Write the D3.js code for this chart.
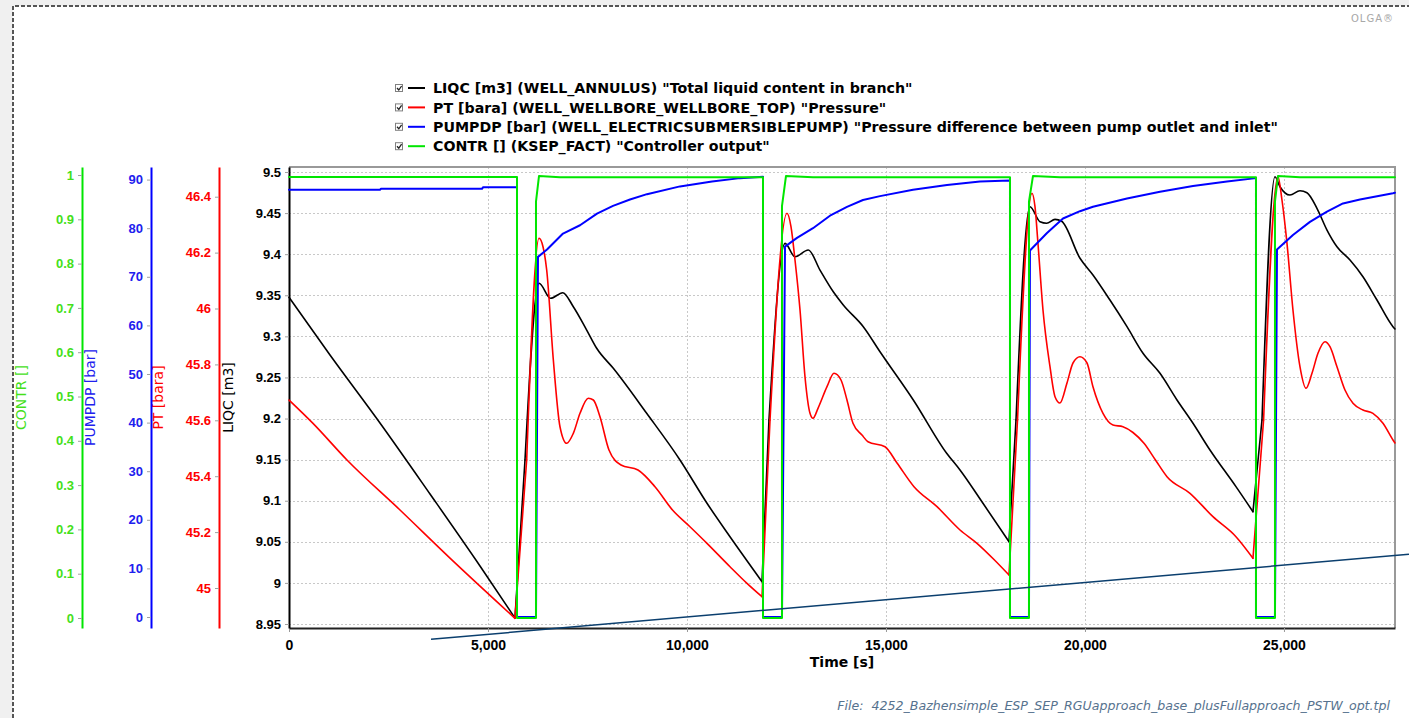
<!DOCTYPE html>
<html>
<head>
<meta charset="utf-8">
<script src="https://cdn.jsdelivr.net/npm/d3@7"></script>
<style>
  body { margin: 0; background: #f0f0f0; }
  svg { display: block; font-family: "DejaVu Sans", Verdana, sans-serif; }
  .tick text { font-weight: bold; font-size: 13px; }
  .xaxis .tick text { font-size: 14px; }
</style>
</head>
<body>
<svg id="chart" width="1409" height="718"></svg>
<script>
// ticks
const xTicks = [0, 5000, 10000, 15000, 20000, 25000];
const liqcTicks = [8.95, 9, 9.05, 9.1, 9.15, 9.2, 9.25, 9.3, 9.35, 9.4, 9.45, 9.5];
const ptTicks = [45, 45.2, 45.4, 45.6, 45.8, 46, 46.2, 46.4];
const pumpTicks = [0, 10, 20, 30, 40, 50, 60, 70, 80, 90];
const contrTicks = [0, 0.1, 0.2, 0.3, 0.4, 0.5, 0.6, 0.7, 0.8, 0.9, 1];

// LIQC [m3]
const liqcTime = [0, 1030, 2286, 3543, 4799, 5678, 5930, 6282, 6575, 6877, 7144, 7480, 7731, 8149, 8987, 9824, 10503, 11081, 11885,
  12060, 12463, 12714, 13048, 13342, 13676, 13927, 14430, 14850, 15687, 16525, 16860, 17437, 18091,
  18267, 18618, 18870, 19037, 19247, 19414, 19875, 20201, 20628, 21056, 21458, 21885, 22312, 22714, 23141, 23794, 24221,
  24448, 24774, 24900, 25151, 25402, 25578, 25829, 26081, 26332, 26659, 26985, 27337, 27739, 27789];
const liqcValue = [9.3475, 9.2773, 9.1946, 9.1082, 9.0206, 8.9573, 9.1496, 9.3646, 9.3463, 9.3531, 9.3361, 9.3077, 9.2855, 9.2611, 9.2064, 9.1496, 9.0969, 9.0562, 9.0015,
  9.1982, 9.4132, 9.3969, 9.4051, 9.3807, 9.3543, 9.3382, 9.3118, 9.2813, 9.2226, 9.1577, 9.1374, 9.0969, 9.0501,
  9.1982, 9.4578, 9.4395, 9.4376, 9.4424, 9.4400, 9.3950, 9.3747, 9.3442, 9.3118, 9.2794, 9.2550, 9.2226, 9.1942, 9.1617, 9.1171, 9.0866,
  9.1982, 9.4943, 9.4821, 9.4720, 9.4772, 9.4748, 9.4558, 9.4294, 9.4091, 9.3929, 9.3726, 9.3442, 9.3118, 9.3090];

// PT [bara]
const ptTime = [0, 603, 1457, 2789, 4045, 5678, 5972, 6282, 6382, 6475, 6642, 6809, 6977, 7144, 7312, 7521, 7647, 7814, 8040, 8342, 8769, 9196, 9636, 10075, 10503, 11081, 11508, 11885,
  12086, 12513, 12613, 12714, 12840, 12965, 13091, 13166, 13292, 13518, 13694, 13870, 14020, 14171, 14397, 14548, 14975, 15277, 15704, 16282, 16860, 17287, 17726, 18091,
  18305, 18669, 18744, 18819, 18945, 19121, 19247, 19372, 19548, 19699, 19875, 20051, 20201, 20453, 20704, 20955, 21206, 21483, 21771, 22061, 22639, 23216, 23794, 24221,
  24488, 24850, 24950, 25076, 25226, 25402, 25553, 25704, 25854, 26030, 26156, 26332, 26533, 26734, 26985, 27236, 27488, 27739, 27789];
const ptValue = [45.6726, 45.589, 45.458, 45.279, 45.107, 44.8916, 45.458, 46.2512, 46.2211, 46.1377, 45.8157, 45.577, 45.5177, 45.5535, 45.625, 45.6787, 45.6726, 45.6129, 45.4937, 45.4401, 45.4222, 45.3624, 45.2791, 45.2193, 45.1599, 45.0762, 45.0168, 44.9689,
  45.601, 46.3406, 46.2927, 46.1735, 45.9946, 45.756, 45.625, 45.6072, 45.6429, 45.7202, 45.7682, 45.7442, 45.6726, 45.5893, 45.5474, 45.5234, 45.5055, 45.4472, 45.3624, 45.2909, 45.2075, 45.1599, 45.1002, 45.0465,
  45.601, 46.4122, 46.3642, 46.2333, 45.9946, 45.7918, 45.6845, 45.6619, 45.7335, 45.805, 45.8276, 45.805, 45.7202, 45.625, 45.5832, 45.5771, 45.5564, 45.5177, 45.458, 45.3982, 45.3388, 45.2551, 45.1835, 45.1063,
  45.601, 46.4716, 46.3882, 46.2333, 45.9946, 45.7918, 45.7145, 45.7682, 45.8397, 45.8812, 45.8633, 45.7918, 45.7084, 45.6608, 45.6369, 45.625, 45.5893, 45.5295, 45.519];

// PUMPDP [bar]
const pumpTime = [0, 2286, 2311, 4849, 4874, 5729, 5729, 6206, 6256, 6483, 6885, 7312, 7739, 8141, 8568, 8995, 9824, 10629, 11332, 11910, 11910,
  12387, 12463, 12764, 13166, 13618, 14020, 14422, 14850, 15679, 16533, 17362, 18116, 18116,
  18593, 18618, 19046, 19448, 19875, 20201, 21056, 21885, 22714, 23568, 24297, 24297,
  24774, 24825, 25226, 25653, 26081, 26483, 26910, 27739, 27789];
const pumpValue = [87.9, 87.9, 88.1, 88.1, 88.4, 88.4, 0, 0, 74.1, 75.6, 78.9, 80.6, 83.0, 84.6, 85.9, 87.0, 88.6, 89.6, 90.3, 90.6, 0,
  0, 76.2, 78.0, 80.0, 82.7, 84.4, 85.8, 86.6, 87.9, 88.9, 89.6, 89.8, 0,
  0, 75.4, 79.0, 82.0, 83.5, 84.4, 86.1, 87.5, 88.7, 89.6, 90.3, 0,
  0, 75.6, 78.6, 81.3, 83.4, 85.1, 85.9, 87.2, 87.3];

// CONTR []
const contrTime = [0, 5729, 5729, 6206, 6206, 6282, 6809, 11910, 11910, 12387, 12387, 12488, 13166,
  18116, 18116, 18593, 18593, 18694, 19372, 24297, 24297, 24774, 24774, 24850, 25402, 27789];
const contrValue = [0.9955, 0.9955, 0, 0, 0.94, 0.998, 0.995, 0.995, 0, 0, 0.93, 0.998, 0.995,
  0.995, 0, 0, 0.94, 0.998, 0.995, 0.995, 0, 0, 0.94, 0.998, 0.995, 0.995];

// stray straight line (LIQC units)
const trendTime = [3568, 28141];
const trendLiqc = [8.9314, 9.0349];

const legendLabels = [
  'LIQC [m3] (WELL_ANNULUS) "Total liquid content in branch"',
  'PT [bara] (WELL_WELLBORE_WELLBORE_TOP) "Pressure"',
  'PUMPDP [bar] (WELL_ELECTRICSUBMERSIBLEPUMP) "Pressure difference between pump outlet and inlet"',
  'CONTR [] (KSEP_FACT) "Controller output"'
];
const legendColors = ['#000000', '#ff0000', '#0000ff', '#00e600'];

const plotLeft = 289, plotRight = 1395, plotTop = 167, plotBottom = 628;
const svg = d3.select('#chart');

// panel + dashed frame
svg.append('rect').attr('x', 13).attr('y', 6).attr('width', 1409).attr('height', 730).attr('fill', '#fff');
svg.append('path').attr('d', 'M13,718V6H1409').attr('fill', 'none')
  .attr('stroke', '#555').attr('stroke-width', 2).attr('stroke-dasharray', '4,2');

svg.append('text').attr('x', 1394).attr('y', 22).attr('text-anchor', 'end')
  .attr('font-size', 10).attr('fill', '#a8a8a8').attr('letter-spacing', 1).text('OLGA\u00ae');

const x = d3.scaleLinear().domain([0, 27790]).range([plotLeft, plotRight]);
const yLiqc = d3.scaleLinear().domain([8.94512, 9.50608]).range([plotBottom, plotTop]);
const yPt = d3.scaleLinear().domain([44.8569, 46.5063]).range([plotBottom, plotTop]);
const yPump = d3.scaleLinear().domain([-2.263, 92.59]).range([plotBottom, plotTop]);
const yContr = d3.scaleLinear().domain([-0.02257, 1.0181]).range([plotBottom, plotTop]);

// grid
const grid = svg.append('g').attr('stroke', '#c8c8c8').attr('stroke-dasharray', '2,2');
grid.selectAll('.h').data(liqcTicks).enter().append('line')
  .attr('x1', plotLeft).attr('x2', plotRight)
  .attr('y1', d => Math.round(yLiqc(d)) + 0.5).attr('y2', d => Math.round(yLiqc(d)) + 0.5);
grid.selectAll('.v').data(xTicks.slice(1)).enter().append('line')
  .attr('y1', plotTop).attr('y2', plotBottom)
  .attr('x1', d => Math.round(x(d)) + 0.5).attr('x2', d => Math.round(x(d)) + 0.5);

// frame top/right
svg.append('path').attr('d', `M${plotLeft},${plotTop}H${plotRight}V${plotBottom}`).attr('fill', 'none')
  .attr('stroke', '#999').attr('stroke-width', 2);

// x axis
const xAxis = svg.append('g').attr('class', 'xaxis').attr('transform', `translate(0,${plotBottom})`)
  .call(d3.axisBottom(x).tickValues(xTicks).tickFormat(d3.format(',')).tickSize(4).tickSizeOuter(0).tickPadding(8));
xAxis.select('.domain').attr('stroke', '#222').attr('stroke-width', 2);
xAxis.selectAll('.tick line').attr('stroke', '#999');
xAxis.selectAll('.tick text').attr('fill', '#000');
svg.append('text').attr('x', (plotLeft + plotRight) / 2).attr('y', 667).attr('text-anchor', 'middle')
  .attr('font-weight', 'bold').attr('font-size', 14).text('Time [s]');

// y axes
const axisDefs = [
  { scale: yLiqc, pos: 289, ticks: liqcTicks, line: '#000000', text: '#000000', label: 'LIQC [m3]', labelX: 233 },
  { scale: yPt, pos: 219, ticks: ptTicks, line: '#ff0000', text: '#ff0000', label: 'PT [bara]', labelX: 163 },
  { scale: yPump, pos: 151, ticks: pumpTicks, line: '#0000ff', text: '#2020ee', label: 'PUMPDP [bar]', labelX: 95 },
  { scale: yContr, pos: 82, ticks: contrTicks, line: '#00e600', text: '#44e01a', label: 'CONTR []', labelX: 26 }
];
axisDefs.forEach(a => {
  const g = svg.append('g').attr('transform', `translate(${a.pos},0)`)
    .call(d3.axisLeft(a.scale).tickValues(a.ticks).tickFormat(d => String(d)).tickSize(4).tickSizeOuter(0).tickPadding(4));
  g.select('.domain').attr('stroke', a.line).attr('stroke-width', 2);
  g.selectAll('.tick line').attr('stroke', '#a0a0a0');
  g.selectAll('.tick text').attr('fill', a.text);
  svg.append('text').attr('transform', `translate(${a.labelX},${(plotTop + plotBottom) / 2}) rotate(-90)`)
    .attr('text-anchor', 'middle').attr('font-size', 14).attr('fill', a.text).text(a.label);
});

// split a series where it jumps up sharply (pump restart), so the V bottoms stay sharp
function splitAtJumps(pts, span) {
  const segs = [[pts[0]]];
  for (let i = 1; i < pts.length; i++) {
    segs[segs.length - 1].push(pts[i]);
    if (i < pts.length - 1 && pts[i + 1][1] - pts[i][1] > span * 0.15) segs.push([pts[i]]);
  }
  return segs;
}

// series, drawn in legend order
const seriesDefs = [
  { t: liqcTime, v: liqcValue, y: yLiqc, color: legendColors[0], w: 1.6, smooth: true },
  { t: ptTime, v: ptValue, y: yPt, color: legendColors[1], w: 1.6, smooth: true },
  { t: pumpTime, v: pumpValue, y: yPump, color: legendColors[2], w: 2, smooth: false },
  { t: contrTime, v: contrValue, y: yContr, color: legendColors[3], w: 2, smooth: false }
];
seriesDefs.forEach(s => {
  const pts = d3.zip(s.t, s.v);
  const line = d3.line().x(d => x(d[0])).y(d => s.y(d[1]))
    .curve(s.smooth ? d3.curveMonotoneX : d3.curveLinear);
  const dom = s.y.domain();
  const segs = s.smooth ? splitAtJumps(pts, dom[1] - dom[0]) : [pts];
  svg.append('g').selectAll('path').data(segs).enter().append('path')
    .attr('d', line)
    .attr('fill', 'none').attr('stroke', s.color).attr('stroke-width', s.w)
    .attr('stroke-linejoin', 'round').attr('stroke-linecap', 'round');
});

svg.append('path').datum(d3.zip(trendTime, trendLiqc))
  .attr('d', d3.line().x(d => x(d[0])).y(d => yLiqc(d[1])))
  .attr('stroke', '#0b3f6e').attr('stroke-width', 1.5).attr('fill', 'none');

// legend
const legend = svg.selectAll('.legend').data(legendLabels).enter().append('g')
  .attr('class', 'legend')
  .attr('transform', (d, i) => `translate(0,${88 + i * 19.4})`);
legend.append('rect').attr('x', 395.5).attr('y', -3.5).attr('width', 7).attr('height', 7)
  .attr('fill', '#fff').attr('stroke', '#808080');
legend.append('path').attr('d', 'M397,0l1.8,2l2.8,-4').attr('fill', 'none').attr('stroke', '#222').attr('stroke-width', 1.3);
legend.append('line').attr('x1', 408).attr('x2', 425).attr('y1', 0).attr('y2', 0)
  .attr('stroke', (d, i) => legendColors[i]).attr('stroke-width', 2);
legend.append('text').attr('x', 433).attr('dy', '0.36em')
  .attr('font-weight', 'bold').attr('font-size', 14.2).text(d => d);

svg.append('text').attr('x', 1390).attr('y', 710).attr('text-anchor', 'end')
  .attr('font-style', 'italic').attr('font-size', 12.6).attr('fill', '#56728e').style('white-space', 'pre')
  .text('File:  4252_Bazhensimple_ESP_SEP_RGUapproach_base_plusFullapproach_PSTW_opt.tpl');
</script>
</body>
</html>
